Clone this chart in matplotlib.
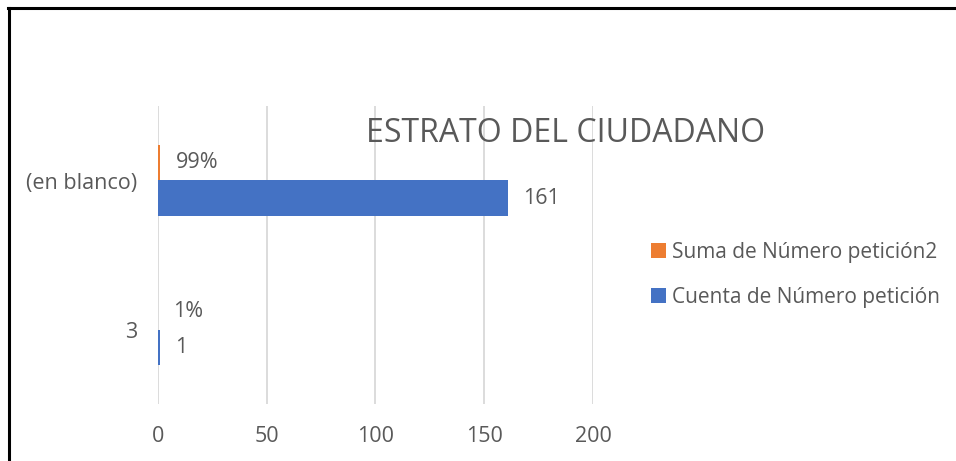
import matplotlib.pyplot as plt
import matplotlib.lines as mlines
import numpy as np

# data
categories = ['3', '(en blanco)']
cuenta = [1, 161]            # Cuenta de Número petición
suma_pct = [0.01, 0.99]      # Suma de Número petición2 (share of total)
suma_labels = ['1%', '99%']
x_ticks = [0, 50, 100, 150, 200]

blue = '#4472C4'
orange = '#ED7D31'
grey_txt = '#595959'
font = 'Open Sans'
fs = 15.5

plt.rcParams['font.family'] = [font, 'DejaVu Sans']

fig = plt.figure(figsize=(9.56, 4.61), dpi=100)
ax = fig.add_axes([158 / 956, 57 / 461, 435 / 956, 298 / 461])

y = np.arange(len(categories))
h = 0.235
b_orange = ax.barh(y + h / 2, suma_pct, height=h, color=orange, label='Suma de Número petición2')
b_blue = ax.barh(y - h / 2, cuenta, height=h, color=blue, label='Cuenta de Número petición')

# data labels
for yi, v, lab in zip(y, suma_pct, suma_labels):
    ax.annotate(lab, (v, yi + h / 2), xytext=(11, 0), textcoords='offset points',
                va='center', ha='left', fontsize=fs, color=grey_txt)
for yi, v in zip(y, cuenta):
    ax.annotate(str(v), (v, yi - h / 2), xytext=(11, 0), textcoords='offset points',
                va='center', ha='left', fontsize=fs, color=grey_txt)

ax.set_xlim(0, 200)
ax.set_ylim(-0.5, 1.5)
ax.set_xticks(x_ticks)
ax.set_yticks(y)
ax.set_yticklabels(categories)
ax.tick_params(axis='both', length=0, labelsize=fs, labelcolor=grey_txt)
ax.tick_params(axis='y', pad=15)
ax.tick_params(axis='x', pad=16)
ax.grid(axis='x', color='#d9d9d9', linewidth=1.3)
ax.set_axisbelow(True)
for s in ax.spines.values():
    s.set_visible(False)

fig.text(566 / 956, 1 - 134 / 461, 'ESTRATO DEL CIUDADANO', ha='center', va='center',
         fontsize=23, color=grey_txt)

leg = fig.legend(handles=[b_orange, b_blue], loc='upper left',
                 bbox_to_anchor=(632 / 956, 1 - 223 / 461), frameon=False,
                 fontsize=15, labelcolor=grey_txt, handlelength=0.75, handleheight=0.75,
                 handletextpad=0.25, labelspacing=1.15)

# outer border (only left and top edges visible)
fig.add_artist(mlines.Line2D([9 / 956, 9 / 956], [0, 1 - 8 / 461], color='black', linewidth=2.2,
                             transform=fig.transFigure))
fig.add_artist(mlines.Line2D([8 / 956, 1], [1 - 8 / 461, 1 - 8 / 461], color='black', linewidth=2.2,
                             transform=fig.transFigure))

fig.savefig('out.png', dpi=100, facecolor='white')
